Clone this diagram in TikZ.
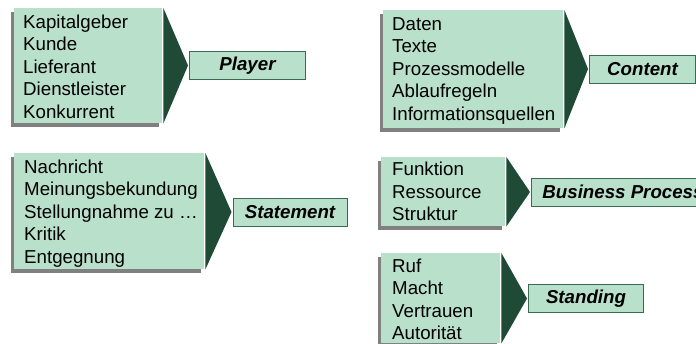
\documentclass[tikz,border=0pt]{standalone}
\usepackage{fontspec}
\setmainfont{Liberation Sans}
\usetikzlibrary{calc,shadows}
\definecolor{boxgreen}{HTML}{B9E0CB}
\definecolor{darkgreen}{HTML}{1F4A36}
\definecolor{edgegreen}{HTML}{3A6B52}
\definecolor{shadowgray}{HTML}{808080}
\tikzset{
  listbox/.style={fill=boxgreen, draw=none, anchor=north west, inner sep=0pt,
    drop shadow={shadow xshift=-3.5pt, shadow yshift=-4pt, fill=shadowgray, opacity=1}},
  item/.style={anchor=base west, inner sep=0pt, font=\fontsize{18.7}{22.5}\selectfont},
  tagbox/.style={fill=boxgreen, draw=edgegreen, line width=1pt, anchor=west,
    minimum height=28pt, inner sep=0pt,
    font=\fontsize{18.7}{22.5}\selectfont\bfseries\itshape},
  wedge/.style={fill=darkgreen}
}
% one group: list box, wedge pointing at the tag box
\newcommand{\wedgeto}[2]{%
  \fill[wedge] ($(#1.north east)+(1,0)$) -- ($(#2.west)+(-1,0)$) -- ($(#1.south east)+(1,0)$) -- cycle;}
\begin{document}
\begin{tikzpicture}[x=1pt,y=-1pt]
\useasboundingbox (0,0) rectangle (696,343);
\clip (0,0) rectangle (696,343);

% Player
\node[listbox, minimum width=148pt, minimum height=115pt] (plist) at (14,8) {};
\foreach \t [count=\i] in {Kapitalgeber,Kunde,Lieferant,Dienstleister,Konkurrent}
  \node[item] (pl-\i) at (23,{5.5+22.5*\i}) {\t};
\node[tagbox, minimum width=116pt] (ptag) at (189,65.5) {Player};
\wedgeto{plist}{ptag}

% Content
\node[listbox, minimum width=180pt, minimum height=118pt] (clist) at (383,10) {};
\foreach \t [count=\i] in {Daten,Texte,Prozessmodelle,Ablaufregeln,Informationsquellen}
  \node[item] (cl-\i) at (392,{7.5+22.5*\i}) {\t};
\node[tagbox, minimum width=106pt] (ctag) at (589,69) {Content};
\wedgeto{clist}{ctag}

% Statement
\node[listbox, minimum width=190pt, minimum height=116pt] (slist) at (14,153) {};
\foreach \t [count=\i] in {Nachricht,Meinungsbekundung,Stellungnahme zu …,Kritik,Entgegnung}
  \node[item] (sl-\i) at (24,{150.5+22.5*\i}) {\t};
\node[tagbox, minimum width=114pt] (stag) at (232.5,212) {Statement};
\wedgeto{slist}{stag}

% Business Process
\node[listbox, minimum width=124pt, minimum height=69pt] (blist) at (381,157) {};
\foreach \t [count=\i] in {Funktion,Ressource,Struktur}
  \node[item] (bl-\i) at (392,{153+22.5*\i}) {\t};
\node[tagbox, minimum width=183pt] (btag) at (531,192) {Business Process};
\wedgeto{blist}{btag}

% Standing
\node[listbox, minimum width=119pt, minimum height=90pt] (stlist) at (381,253) {};
\foreach \t [count=\i] in {Ruf,Macht,Vertrauen,Autorität}
  \node[item] (stl-\i) at (392,{249.5+22.5*\i}) {\t};
\node[tagbox, minimum width=115pt] (sttag) at (528,298.5) {Standing};
\wedgeto{stlist}{sttag}
\end{tikzpicture}
\end{document}
